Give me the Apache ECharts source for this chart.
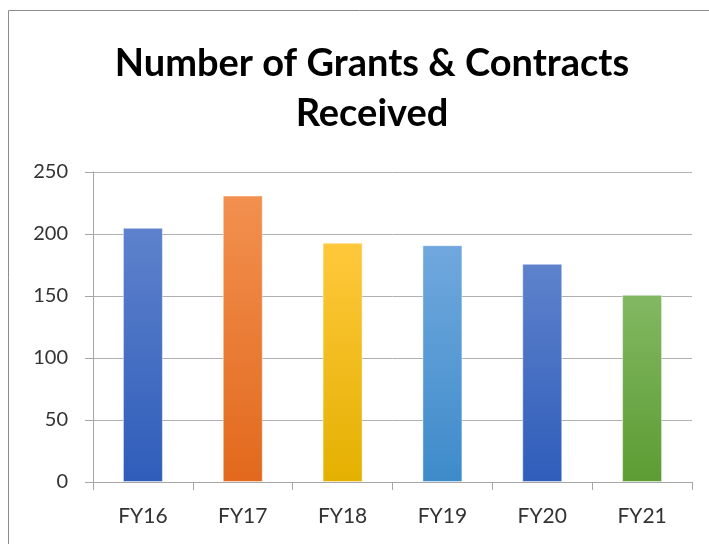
<!DOCTYPE html>
<html>
<head>
<meta charset="utf-8">
<script src="https://cdn.jsdelivr.net/npm/echarts@6/dist/echarts.min.js"></script>
<style>
  html, body { margin: 0; padding: 0; background: #fff; }
  #chart { width: 709px; height: 544px; }
</style>
</head>
<body>
<div id="chart"></div>
<script>
var categories = ['FY16', 'FY17', 'FY18', 'FY19', 'FY20', 'FY21'];
var grants = [205, 231, 193, 191, 176, 151];
var yTicks = [0, 50, 100, 150, 200, 250];
// top / bottom colour of each bar's gradient
var barTop = ['#5E82CC', '#F2904F', '#FFC83C', '#70A8DE', '#5E82CC', '#82B862'];
var barBottom = ['#2F5DBA', '#E2691D', '#E4B000', '#3E8BCA', '#2F5DBA', '#5C9C33'];

var chart = echarts.init(document.getElementById('chart'));

var option = {
    animation: false,
    textStyle: { fontFamily: 'Lato' },
    title: {
        text: 'Number of Grants & Contracts\nReceived',
        left: 367,
        top: 34,
        textAlign: 'center',
        textStyle: {
            fontFamily: 'Lato',
            fontSize: 38,
            fontWeight: 'bold',
            color: '#000',
            lineHeight: 50
        }
    },
    graphic: [{
        type: 'rect',
        shape: { x: 8.5, y: 10.5, width: 760, height: 600 },
        style: { fill: 'none', stroke: '#8c8c8c', lineWidth: 1 },
        silent: true
    }],
    grid: { left: 93, right: 17, top: 172, bottom: 62 },
    xAxis: {
        type: 'category',
        data: categories,
        axisLine: { lineStyle: { color: '#a6a6a6', width: 1 } },
        axisTick: { show: true, length: 8, lineStyle: { color: '#a6a6a6' } },
        axisLabel: { color: '#333', fontSize: 21, margin: 24, fontFamily: 'Lato' }
    },
    yAxis: {
        type: 'value',
        min: 0,
        max: 250,
        interval: 50,
        axisLine: { show: true, lineStyle: { color: '#a6a6a6' } },
        axisTick: { show: true, length: 8, lineStyle: { color: '#a6a6a6' } },
        splitLine: { lineStyle: { color: '#b0b0b0', width: 1 } },
        axisLabel: {
            color: '#333', fontSize: 20, margin: 25, fontFamily: 'Lato',
            formatter: function (v) { return yTicks.indexOf(v) >= 0 ? String(v) : ''; }
        }
    },
    series: [{
        type: 'bar',
        barWidth: 40,
        data: grants.map(function (v, i) {
            return {
                value: v,
                itemStyle: {
                    color: new echarts.graphic.LinearGradient(0, 0, 0, 1, [
                        { offset: 0, color: barTop[i] },
                        { offset: 1, color: barBottom[i] }
                    ]),
                    borderColor: 'rgba(255,255,255,0.45)',
                    borderWidth: 1
                }
            };
        })
    }]
};

chart.setOption(option);
</script>
</body>
</html>
